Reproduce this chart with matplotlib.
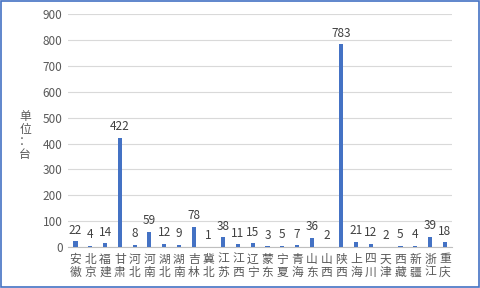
import matplotlib
matplotlib.use('Agg')
import matplotlib.pyplot as plt
from matplotlib.patches import Rectangle

plt.rcParams['font.family'] = ['Noto Sans CJK SC', 'DejaVu Sans']

provinces = ['安徽', '北京', '福建', '甘肃', '河北', '河南', '湖北', '湖南', '吉林', '冀北',
             '江苏', '江西', '辽宁', '蒙东', '宁夏', '青海', '山东', '山西', '陕西', '上海',
             '四川', '天津', '西藏', '新疆', '浙江', '重庆']
counts = [22, 4, 14, 422, 8, 59, 12, 9, 78, 1,
          38, 11, 15, 3, 5, 7, 36, 2, 783, 21,
          12, 2, 5, 4, 39, 18]
yticks = [0, 100, 200, 300, 400, 500, 600, 700, 800, 900]

grey = '#595959'
fig = plt.figure(figsize=(4.8, 2.88), dpi=100)
ax = fig.add_axes([0.142, 0.142, 0.8, 0.809])

x = range(len(provinces))
bars = ax.bar(x, counts, width=0.28, color='#4472C4', zorder=3)
for xi, v in zip(x, counts):
    ax.text(xi, v + 18, str(v), ha='center', va='bottom', fontsize=8.5, color='#404040')

ax.set_xlim(-0.5, len(provinces) - 0.5)
ax.set_ylim(0, 900)
ax.set_yticks(yticks)
ax.set_yticklabels([str(t) for t in yticks], fontsize=8.5, color=grey)
ax.set_xticks(list(x))
ax.set_xticklabels(['\n'.join(p) for p in provinces], fontsize=8.5, color=grey,
                   linespacing=1.0)
ax.tick_params(length=0, pad=4)
ax.grid(axis='y', color='#D9D9D9', linewidth=0.8, zorder=0)
for s in ['top', 'right', 'left']:
    ax.spines[s].set_visible(False)
ax.spines['bottom'].set_color('#BFBFBF')

fig.text(0.052, 0.53, '单\n位\n：\n台', ha='center', va='center', fontsize=8.5,
         color=grey, linespacing=0.95)

fig.patches.append(Rectangle((0.002, 0.003), 0.995, 0.993, transform=fig.transFigure,
                             fill=False, edgecolor='#4472C4', linewidth=1.2))

fig.savefig('out.png', dpi=100)
